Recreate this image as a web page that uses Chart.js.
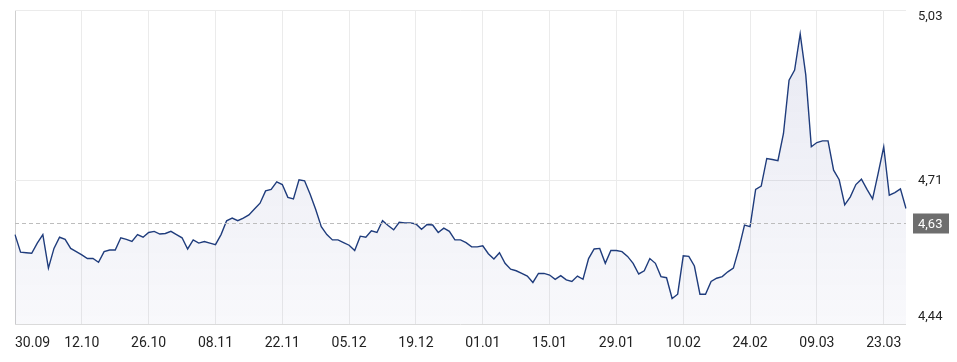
<!DOCTYPE html>
<html>
<head>
<meta charset="utf-8">
<script src="https://cdn.jsdelivr.net/npm/chart.js@4"></script>
<style>
  body { margin: 0; background: #fff; }
  #wrap { width: 957px; height: 362px; position: relative; }
</style>
</head>
<body>
<div id="wrap"><canvas id="chart"></canvas></div>
<script>
var tickLabels = ["30.09", "12.10", "26.10", "08.11", "22.11", "05.12", "19.12",
                  "01.01", "15.01", "29.01", "10.02", "24.02", "09.03", "23.03"];
var yTicks = [4.44, 4.71, 5.03];
var refValue = 4.63;

var values = [
  4.608, 4.575, 4.574, 4.573, 4.592, 4.608, 4.545, 4.582, 4.603, 4.599, 4.582, 4.576,
  4.570, 4.563, 4.563, 4.556, 4.576, 4.579, 4.579, 4.602, 4.599, 4.595, 4.608, 4.603,
  4.612, 4.614, 4.609, 4.610, 4.614, 4.608, 4.602, 4.581, 4.598, 4.592, 4.595, 4.592,
  4.589, 4.608, 4.634, 4.639, 4.634, 4.639, 4.645, 4.656, 4.667, 4.690, 4.693, 4.707,
  4.702, 4.678, 4.675, 4.711, 4.709, 4.684, 4.655, 4.623, 4.608, 4.598, 4.598, 4.593,
  4.588, 4.578, 4.605, 4.603, 4.615, 4.612, 4.634, 4.625, 4.617, 4.631, 4.630, 4.630,
  4.628, 4.618, 4.627, 4.626, 4.612, 4.620, 4.614, 4.598, 4.598, 4.593, 4.585, 4.585,
  4.587, 4.572, 4.562, 4.574, 4.554, 4.543, 4.540, 4.535, 4.530, 4.518, 4.535, 4.535,
  4.532, 4.524, 4.531, 4.523, 4.520, 4.530, 4.524, 4.563, 4.581, 4.582, 4.554, 4.578,
  4.578, 4.576, 4.567, 4.554, 4.534, 4.540, 4.563, 4.554, 4.529, 4.527, 4.488, 4.496,
  4.568, 4.567, 4.549, 4.496, 4.496, 4.520, 4.526, 4.529, 4.538, 4.545, 4.582, 4.626,
  4.623, 4.693, 4.699, 4.751, 4.749, 4.747, 4.798, 4.898, 4.917, 4.985, 4.908, 4.773,
  4.781, 4.784, 4.784, 4.729, 4.711, 4.664, 4.679, 4.702, 4.712, 4.693, 4.675, 4.723,
  4.773, 4.682, 4.687, 4.694, 4.657
];

var step = 12;
var labels = values.map(function (v, i) {
  return i % step === 0 ? tickLabels[i / step] : "";
});

function fmt(v) { return v.toFixed(2).replace(".", ","); }

var textPlugin = {
  id: "texts",
  afterDatasetsDraw: function (chart) {
    var ctx = chart.ctx, area = chart.chartArea;
    var x = chart.scales.x, y = chart.scales.y;
    ctx.save();
    // dashed reference line
    var ry = Math.round(y.getPixelForValue(refValue)) + 0.5;
    ctx.strokeStyle = "#bdbdbd";
    ctx.lineWidth = 1;
    ctx.setLineDash([4, 3]);
    ctx.beginPath();
    ctx.moveTo(area.left, ry);
    ctx.lineTo(area.right, ry);
    ctx.stroke();
    ctx.setLineDash([]);

    // x labels
    ctx.fillStyle = "#222";
    ctx.font = "14px Roboto";
    ctx.textBaseline = "middle";
    tickLabels.forEach(function (t, k) {
      var px = x.getPixelForValue(k * step);
      ctx.textAlign = k === 0 ? "left" : "center";
      ctx.fillText(t, px, area.bottom + 19);
    });

    // y labels
    ctx.font = "13px Roboto";
    ctx.textAlign = "left";
    yTicks.forEach(function (v, k) {
      var py = y.getPixelForValue(v);
      if (k === 0) py -= 7;
      if (k === yTicks.length - 1) py += 7;
      ctx.fillText(fmt(v), area.right + 12, py);
    });

    // reference label box
    ctx.fillStyle = "#6e6e6e";
    ctx.fillRect(area.right + 7, ry - 10, 36, 20);
    ctx.fillStyle = "#fff";
    ctx.fillText(fmt(refValue), area.right + 12, ry + 1);
    ctx.restore();
  }
};

new Chart("chart", {
  type: "line",
  data: {
    labels: labels,
    datasets: [{
      data: values,
      borderColor: "#1f3c7c",
      borderWidth: 1.4,
      pointRadius: 0,
      tension: 0,
      fill: "start",
      backgroundColor: function (c) {
        var a = c.chart.chartArea;
        if (!a) return "rgba(40,50,140,0.06)";
        var g = c.chart.ctx.createLinearGradient(0, a.top, 0, a.bottom);
        g.addColorStop(0, "rgba(40,50,140,0.11)");
        g.addColorStop(1, "rgba(40,50,140,0.03)");
        return g;
      }
    }]
  },
  options: {
    responsive: true,
    maintainAspectRatio: false,
    animation: false,
    layout: { padding: { left: 15, right: 51, top: 10, bottom: 38 } },
    plugins: { legend: { display: false }, tooltip: { enabled: false } },
    scales: {
      x: {
        offset: false,
        ticks: { display: false, autoSkip: false },
        border: { display: false },
        grid: {
          drawTicks: false,
          color: function (c) { return c.index === 0 ? "#cfcfcf" : "#ebebeb"; }
        },
        afterBuildTicks: function (s) {
          s.ticks = s.ticks.filter(function (t) { return t.value % step === 0; });
        }
      },
      y: {
        position: "right",
        min: yTicks[0],
        max: yTicks[yTicks.length - 1],
        ticks: { display: false },
        border: { display: false },
        grid: {
          drawTicks: false,
          color: function (c) { return c.tick && c.tick.value === yTicks[0] ? "#dadada" : "#ebebeb"; }
        },
        afterBuildTicks: function (s) {
          s.ticks = yTicks.map(function (v) { return { value: v }; });
        }
      }
    }
  },
  plugins: [textPlugin]
});
</script>
</body>
</html>
